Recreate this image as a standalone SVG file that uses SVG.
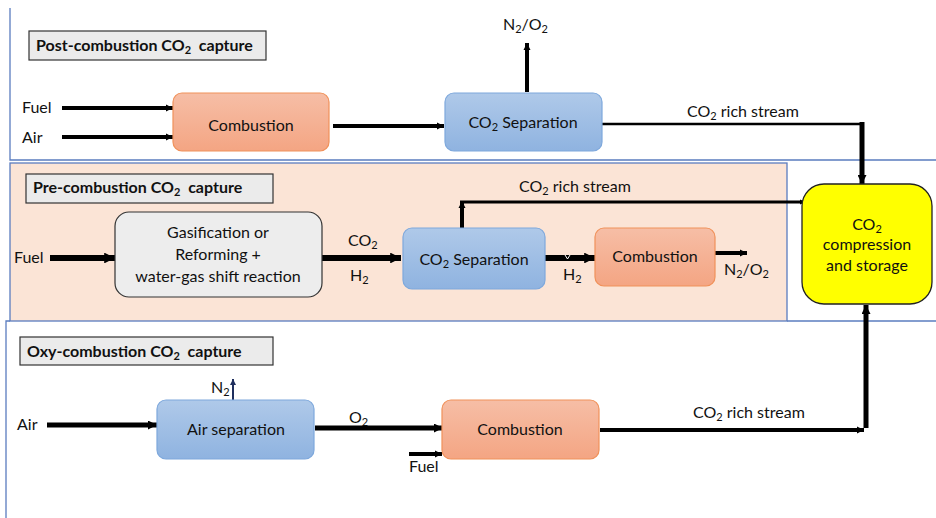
<svg xmlns="http://www.w3.org/2000/svg" width="936" height="518" viewBox="0 0 936 518">
<defs>
<style>
text{font-family:Lato,"Liberation Sans",sans-serif;fill:#111;font-size:16px}
.t{font-weight:bold;font-size:16px;white-space:pre}
.c{text-anchor:middle}
.s{font-size:11px}
.frame{fill:none;stroke:#5a7cbf;stroke-width:1.3}
.lbl{fill:#ebebeb;stroke:#333;stroke-width:1.2}
.orange{fill:url(#og);stroke:#f0915a;stroke-width:1.2}
.blue{fill:url(#bg);stroke:#7ea8dc;stroke-width:1.2}
.ln{stroke:#000;fill:none}
.a{marker-end:url(#ah)}
</style>
<linearGradient id="og" x1="0" y1="0" x2="0" y2="1"><stop offset="0" stop-color="#f6bea6"/><stop offset="1" stop-color="#f4a583"/></linearGradient>
<linearGradient id="bg" x1="0" y1="0" x2="0" y2="1"><stop offset="0" stop-color="#afc9e9"/><stop offset="1" stop-color="#8fb3e0"/></linearGradient>
<marker id="ah" viewBox="0 0 10 10" refX="10" refY="5" markerWidth="1.8" markerHeight="1.8" orient="auto" markerUnits="strokeWidth"><path d="M0,0 L10,5 L0,10 z" fill="#000"/></marker>
<marker id="ahn" viewBox="0 0 10 10" refX="10" refY="5" markerWidth="3" markerHeight="3" orient="auto" markerUnits="strokeWidth"><path d="M0,0 L10,5 L0,10 z" fill="#1f2f5e"/></marker>
</defs>
<rect width="936" height="518" fill="#fff"/>

<g id="frames">
<path class="frame" d="M10,8 V160 H936"/>
<rect x="10" y="163" width="777" height="158" fill="#fbe4d6" stroke="#5a7cbf" stroke-width="1.3"/>
<path class="frame" d="M787,321 H936"/>
<path class="frame" d="M6,518 V321 H10"/>
</g>

<g id="title-post"><rect class="lbl" x="29" y="31" width="237" height="29"/><text class="t" x="36" y="51" xml:space="preserve">Post-combustion CO<tspan class="s" dy="3">2</tspan><tspan dy="-3">  capture</tspan></text></g>
<g id="title-pre"><rect class="lbl" x="26" y="174" width="247" height="29"/><text class="t" x="33" y="193" xml:space="preserve">Pre-combustion CO<tspan class="s" dy="3">2</tspan><tspan dy="-3">  capture</tspan></text></g>
<g id="title-oxy"><rect class="lbl" x="20" y="337" width="253" height="28"/><text class="t" x="27" y="357" xml:space="preserve">Oxy-combustion CO<tspan class="s" dy="3">2</tspan><tspan dy="-3">  capture</tspan></text></g>

<g id="connectors">
<line class="ln a" x1="62" y1="108" x2="173" y2="108" stroke-width="4"/>
<line class="ln a" x1="62" y1="137" x2="173" y2="137" stroke-width="4"/>
<line class="ln a" x1="333" y1="126" x2="444" y2="126" stroke-width="4"/>
<line class="ln a" x1="527" y1="92" x2="527" y2="43" stroke-width="4"/>
<polyline class="ln" points="602,124 862,124" stroke-width="2.5"/>
<line class="ln a" x1="862" y1="122" x2="862" y2="184" stroke-width="5"/>
<line class="ln a" x1="50" y1="258" x2="115" y2="258" stroke-width="6"/>
<line class="ln a" x1="322" y1="258" x2="401" y2="258" stroke-width="6"/>
<line class="ln a" x1="462" y1="228" x2="462" y2="201" stroke-width="4"/>
<line class="ln a" x1="460" y1="202" x2="805" y2="202" stroke-width="3"/>
<line class="ln a" x1="545" y1="258" x2="595" y2="258" stroke-width="6"/>
<path d="M565,255 L567.5,259 L570,255" stroke="#fff" stroke-width="1" fill="none"/>
<line class="ln a" x1="715" y1="253" x2="747" y2="253" stroke-width="4"/>
<line class="ln a" x1="47" y1="425" x2="157" y2="425" stroke-width="5"/>
<line x1="233" y1="400" x2="233" y2="379" stroke="#1f2f5e" stroke-width="2" marker-end="url(#ahn)"/>
<line class="ln a" x1="315" y1="428" x2="443" y2="428" stroke-width="5"/>
<line class="ln a" x1="409" y1="454" x2="442" y2="454" stroke-width="4"/>
<line class="ln a" x1="600" y1="430" x2="864" y2="430" stroke-width="4"/>
<line class="ln a" x1="866" y1="428" x2="866" y2="305" stroke-width="5"/>
</g>

<g id="n-comb1"><rect class="orange" x="173" y="93" width="156" height="58" rx="9"/><text class="c" x="251" y="131">Combustion</text></g>
<g id="n-sep1"><rect class="blue" x="445" y="93" width="157" height="58" rx="9"/><text class="c" x="523" y="128">CO<tspan class="s" dy="3">2</tspan><tspan dy="-3"> Separation</tspan></text></g>
<g id="n-gas"><rect x="115" y="212" width="207" height="85" rx="14" fill="#ededed" stroke="#333" stroke-width="1.2"/>
<text class="c" x="218" y="238">Gasification or</text><text class="c" x="218" y="260">Reforming +</text><text class="c" x="218" y="282">water-gas shift reaction</text></g>
<g id="n-sep2"><rect class="blue" x="403" y="228" width="142" height="61" rx="9"/><text class="c" x="474" y="265">CO<tspan class="s" dy="3">2</tspan><tspan dy="-3"> Separation</tspan></text></g>
<g id="n-comb2"><rect class="orange" x="595" y="228" width="120" height="58" rx="9"/><text class="c" x="655" y="262">Combustion</text></g>
<g id="n-store"><rect x="802" y="184" width="130" height="120" rx="22" fill="#ffff00" stroke="#222" stroke-width="1.3"/>
<text class="c" x="867" y="230">CO<tspan class="s" dy="3">2</tspan></text><text class="c" x="867" y="250">compression</text><text class="c" x="867" y="271">and storage</text></g>
<g id="n-airsep"><rect class="blue" x="157" y="400" width="157" height="59" rx="9"/><text class="c" x="236" y="435">Air separation</text></g>
<g id="n-comb3"><rect class="orange" x="442" y="400" width="157" height="59" rx="9"/><text class="c" x="520" y="435">Combustion</text></g>

<g id="labels">
<text x="22" y="113">Fuel</text>
<text x="22" y="143">Air</text>
<text x="503" y="30">N<tspan class="s" dy="3">2</tspan><tspan dy="-3">/O</tspan><tspan class="s" dy="3">2</tspan></text>
<text x="687" y="117">CO<tspan class="s" dy="3">2</tspan><tspan dy="-3"> rich stream</tspan></text>
<text x="14" y="263">Fuel</text>
<text x="348" y="246">CO<tspan class="s" dy="3">2</tspan></text>
<text x="350" y="281">H<tspan class="s" dy="3">2</tspan></text>
<text x="519" y="192">CO<tspan class="s" dy="3">2</tspan><tspan dy="-3"> rich stream</tspan></text>
<text x="563" y="280">H<tspan class="s" dy="3">2</tspan></text>
<text x="724" y="275">N<tspan class="s" dy="3">2</tspan><tspan dy="-3">/O</tspan><tspan class="s" dy="3">2</tspan></text>
<text x="211" y="393">N<tspan class="s" dy="3">2</tspan></text>
<text x="17" y="430">Air</text>
<text x="349" y="423">O<tspan class="s" dy="3">2</tspan></text>
<text x="409" y="472">Fuel</text>
<text x="693" y="418">CO<tspan class="s" dy="3">2</tspan><tspan dy="-3"> rich stream</tspan></text>
</g>
</svg>
